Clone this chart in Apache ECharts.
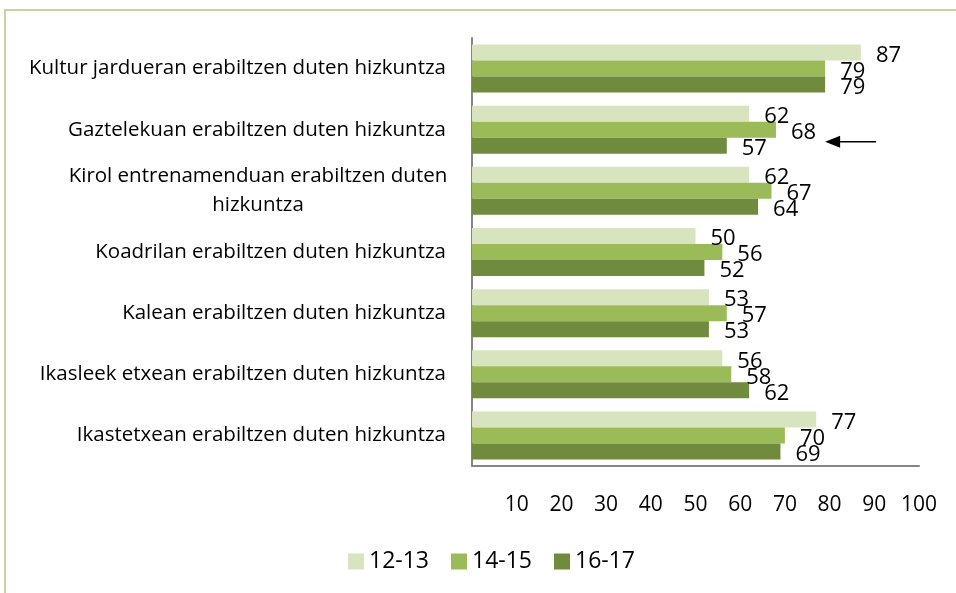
<!DOCTYPE html>
<html>
<head>
<meta charset="utf-8">
<script src="https://cdn.jsdelivr.net/npm/echarts@6/dist/echarts.min.js"></script>
<style>
  html, body { margin: 0; padding: 0; background: #fff; }
  #chart { width: 956px; height: 593px; }
</style>
</head>
<body>
<div id="chart"></div>
<script>
var categories = [
  'Kultur jardueran erabiltzen duten hizkuntza',
  'Gaztelekuan erabiltzen duten hizkuntza',
  'Kirol entrenamenduan erabiltzen duten\nhizkuntza',
  'Koadrilan erabiltzen duten hizkuntza',
  'Kalean erabiltzen duten hizkuntza',
  'Ikasleek etxean erabiltzen duten hizkuntza',
  'Ikastetxean erabiltzen duten hizkuntza'
];
var seriesNames = ['12-13', '14-15', '16-17'];
var v1213 = [87, 62, 62, 50, 53, 56, 77];
var v1415 = [79, 68, 67, 56, 57, 58, 70];
var v1617 = [79, 57, 64, 52, 53, 62, 69];
var colors = ['#D7E4BD', '#9BBB59', '#708A3E'];
// arrow pointing at the Gaztelekuan row (from value -> to value)
var arrowFrom = 90.4, arrowTo = 79;

var FONT = 'Open Sans';
var chart = echarts.init(document.getElementById('chart'));

function barSeries(name, data, color) {
  return {
    name: name,
    type: 'bar',
    data: data,
    barWidth: 16,
    barGap: '0%',
    itemStyle: { color: color },
    label: {
      show: true,
      position: 'right',
      distance: 15,
      offset: [0, 3],
      color: '#000',
      fontFamily: FONT,
      fontSize: 22
    }
  };
}

chart.setOption({
  backgroundColor: '#fff',
  animation: false,
  grid: { left: 472, right: 37, top: 38, bottom: 127 },
  legend: {
    data: seriesNames,
    left: 343,
    top: 545,
    itemWidth: 16,
    itemHeight: 16,
    itemGap: 22,
    icon: 'rect',
    textStyle: { fontFamily: FONT, fontSize: 23, color: '#000' }
  },
  xAxis: {
    type: 'value',
    min: 0,
    max: 100,
    interval: 10,
    axisLine: { show: true, lineStyle: { color: '#868686', width: 2 } },
    axisTick: { show: false },
    splitLine: { show: false },
    axisLabel: {
      margin: 29,
      color: '#000',
      fontFamily: FONT,
      fontSize: 21,
      formatter: function (v) { return v === 0 ? '' : v; }
    }
  },
  yAxis: {
    type: 'category',
    data: categories,
    inverse: true,
    axisLine: { show: true, lineStyle: { color: '#868686', width: 2 } },
    axisTick: { show: false },
    axisLabel: {
      margin: 26,
      color: '#000',
      fontFamily: FONT,
      fontSize: 20.5,
      lineHeight: 29,
      formatter: function (v) {
        if (v.indexOf('\n') >= 0) {
          return v.split('\n').map(function (s) { return '{c|' + s + '}'; }).join('\n');
        }
        return v;
      },
      rich: {
        c: { width: 376, align: 'center', fontFamily: FONT, fontSize: 20.5, lineHeight: 29, color: '#000' }
      }
    }
  },
  series: [
    barSeries(seriesNames[0], v1213, colors[0]),
    barSeries(seriesNames[1], v1415, colors[1]),
    barSeries(seriesNames[2], v1617, colors[2])
  ]
});

// frame and arrow annotation placed through the chart's own scales
var p1 = chart.convertToPixel({ gridIndex: 0 }, [arrowFrom, categories[1]]);
var p2 = chart.convertToPixel({ gridIndex: 0 }, [arrowTo, categories[1]]);
var dy = 12;
chart.setOption({
  graphic: [
    {
      type: 'rect',
      shape: { x: 5, y: 10, width: 1000, height: 1000 },
      style: { fill: 'none', stroke: '#C3D69B', lineWidth: 2 },
      silent: true
    },
    {
      type: 'line',
      shape: { x1: p1[0], y1: p1[1] + dy, x2: p2[0] + 14, y2: p2[1] + dy },
      style: { stroke: '#000', lineWidth: 1.5 }
    },
    {
      type: 'polygon',
      shape: { points: [[p2[0], p2[1] + dy], [p2[0] + 15, p2[1] + dy - 6], [p2[0] + 15, p2[1] + dy + 6]] },
      style: { fill: '#000' }
    }
  ]
});
</script>
</body>
</html>
